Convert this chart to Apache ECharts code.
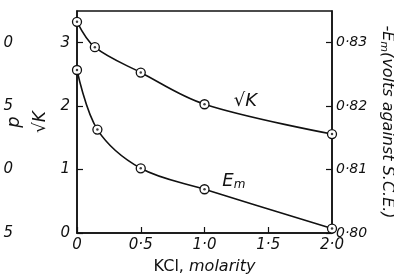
<!DOCTYPE html>
<html>
<head>
<meta charset="utf-8">
<script src="https://cdn.jsdelivr.net/npm/echarts@6/dist/echarts.min.js"></script>
<style>
html,body{margin:0;padding:0;background:#fff;}
#chart{width:394px;height:278px;}
</style>
</head>
<body>
<div id="chart"></div>
<script>
// values
var kclRootK=[0,0.14,0.5,1.0,2.0];
var rootK=[3.33,2.93,2.53,2.03,1.56];
var kclEm=[0,0.16,0.5,1.0,2.0];
var emVolts=[0.8257,0.8163,0.8102,0.8069,0.8007];
var farLeftLabels=['5','0','5','0'];
var rootKLabelAt=[1.32,2.07];
var emLabelAt=[1.23,0.8082];

var font='DejaVu Sans';
var ink='#111';

function pairs(xs,ys){
  var out=[];
  for(var i=0;i<xs.length;i++){out.push([xs[i],ys[i]]);}
  return out;
}
function dotted(v){return String(v).replace('.','\u00b7');}

var lblStyle={color:ink,fontFamily:font,fontStyle:'italic',fontSize:15};

var option={
  animation:false,
  grid:{left:77,right:62,top:11,bottom:45,show:true,borderColor:ink,borderWidth:1.5,
        outerBoundsMode:'none',containLabel:false},
  xAxis:{
    type:'value',min:0,max:2,interval:0.5,
    name:'{n|KCl, }{i|molarity}',nameLocation:'middle',nameGap:26,
    nameTextStyle:{rich:{
      n:{fontFamily:font,fontSize:16,color:ink},
      i:{fontFamily:font,fontSize:16,fontStyle:'italic',color:ink}
    }},
    axisLine:{lineStyle:{color:ink,width:1.5}},
    axisTick:{inside:true,length:6,lineStyle:{color:ink,width:1.2}},
    splitLine:{show:false},
    axisLabel:Object.assign({margin:5,formatter:function(v){return v===0?'0':dotted(v.toFixed(1));}},lblStyle)
  },
  yAxis:[{
    type:'value',min:0,max:3.5,interval:1,position:'left',
    name:'{p|p}\n{r|\u221aK}',nameLocation:'middle',nameRotate:90,nameGap:22,
    nameTextStyle:{rich:{
      p:{fontFamily:font,fontSize:18,fontStyle:'italic',color:ink,lineHeight:34},
      r:{fontFamily:font,fontSize:17,fontStyle:'italic',color:ink,lineHeight:20}
    }},
    axisLine:{lineStyle:{color:ink,width:1.5}},
    axisTick:{inside:true,length:6,lineStyle:{color:ink,width:1.2}},
    splitLine:{show:false},
    axisLabel:Object.assign({margin:7,showMaxLabel:false},lblStyle)
  },{
    type:'value',min:0.80,max:0.835,interval:0.01,position:'right',
    name:'{a|-E}{s|m}{a|(volts against S.C.E.)}',nameLocation:'middle',nameRotate:-90,nameGap:36,
    nameTextStyle:{rich:{
      a:{fontFamily:font,fontSize:16,fontStyle:'italic',color:ink},
      s:{fontFamily:font,fontSize:11,fontStyle:'italic',color:ink,padding:[8,0,0,0]}
    }},
    axisLine:{lineStyle:{color:ink,width:1.5}},
    axisTick:{inside:true,length:6,lineStyle:{color:ink,width:1.2}},
    splitLine:{show:false},
    axisLabel:Object.assign({margin:4,showMaxLabel:false,formatter:function(v){return dotted(v.toFixed(2));}},lblStyle,{fontSize:14})
  },{
    type:'value',min:0,max:3.5,interval:1,position:'left',offset:62,
    axisLine:{show:false},axisTick:{show:false},splitLine:{show:false},
    axisLabel:Object.assign({margin:2,showMaxLabel:false,formatter:function(v){return farLeftLabels[v]||'';}},lblStyle)
  }],
  series:[{
    name:'rootK',type:'line',yAxisIndex:0,smooth:0.35,
    data:pairs(kclRootK,rootK),
    symbol:'circle',symbolSize:9,
    lineStyle:{color:ink,width:1.6},
    itemStyle:{color:'#fff',borderColor:ink,borderWidth:1.3},
    markPoint:{symbol:'circle',symbolSize:0,
      label:{show:true,position:'inside',formatter:'\u221aK',color:ink,fontFamily:font,fontSize:18,fontStyle:'italic'},
      data:[{coord:rootKLabelAt}]}
  },{
    name:'Em',type:'line',yAxisIndex:1,smooth:0.35,
    data:pairs(kclEm,emVolts),
    symbol:'circle',symbolSize:9,
    lineStyle:{color:ink,width:1.6},
    itemStyle:{color:'#fff',borderColor:ink,borderWidth:1.3},
    markPoint:{symbol:'circle',symbolSize:0,
      label:{show:true,position:'inside',formatter:'{e|E}{m|m}',
        rich:{e:{color:ink,fontFamily:font,fontSize:18,fontStyle:'italic'},
              m:{color:ink,fontFamily:font,fontSize:12,fontStyle:'italic',padding:[8,0,0,0]}}},
      data:[{coord:emLabelAt}]}
  },{
    type:'scatter',yAxisIndex:0,data:pairs(kclRootK,rootK),
    symbolSize:2.5,itemStyle:{color:ink},z:5
  },{
    type:'scatter',yAxisIndex:1,data:pairs(kclEm,emVolts),
    symbolSize:2.5,itemStyle:{color:ink},z:5
  }]
};

var chart=echarts.init(document.getElementById('chart'));
chart.setOption(option);
</script>
</body>
</html>
